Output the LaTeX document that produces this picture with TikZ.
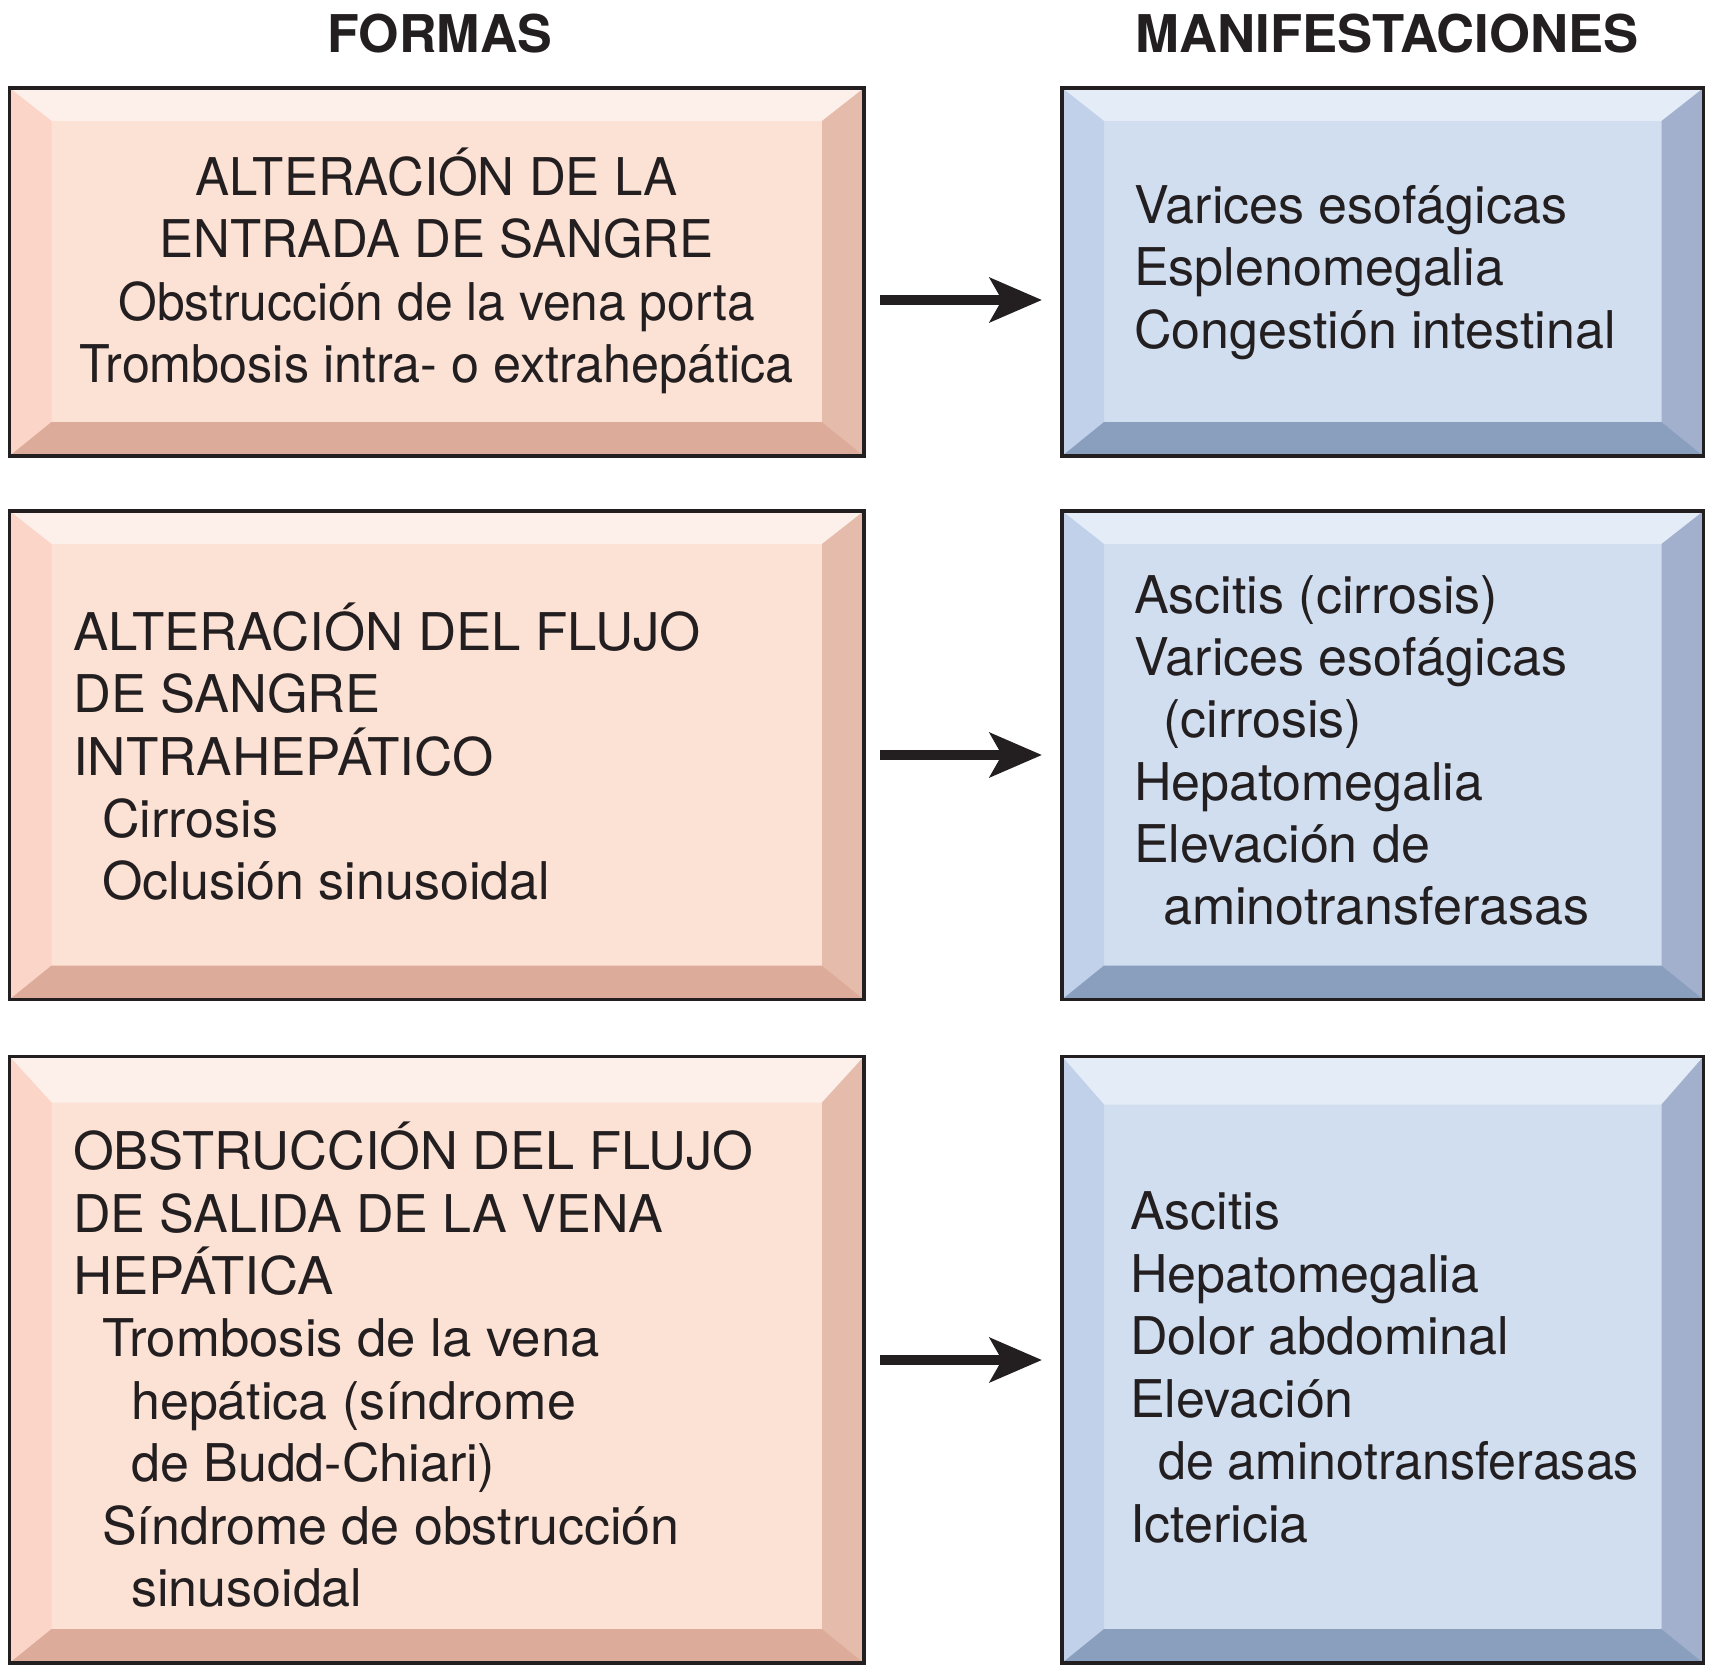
\documentclass[tikz,border=0pt]{standalone}
\usepackage{fontspec}
\usepackage{graphicx}
\setmainfont{TeX Gyre Heros}
\usetikzlibrary{arrows.meta}
\definecolor{ink}{HTML}{231F20}
\definecolor{pface}{HTML}{FCE1D5}
\definecolor{ptop}{HTML}{FDF0EB}
\definecolor{pleft}{HTML}{FBD5C7}
\definecolor{pright}{HTML}{E5BCAB}
\definecolor{pbot}{HTML}{DCAB99}
\definecolor{bface}{HTML}{D0DEF0}
\definecolor{btop}{HTML}{E4ECF7}
\definecolor{bleft}{HTML}{C2D1EA}
\definecolor{bright}{HTML}{A2B0CD}
\definecolor{bbot}{HTML}{8A9EBD}
\newcommand\bevelbox[6]{%
  \fill[#1face] (#2,#3) rectangle (#4,#5);
  \fill[#1top] (#2,#3) -- (#4,#3) -- (#4-42,#3+#6) -- (#2+42,#3+#6) -- cycle;
  \fill[#1left] (#2,#3) -- (#2+42,#3+#6) -- (#2+42,#5-34) -- (#2,#5) -- cycle;
  \fill[#1right] (#4,#3) -- (#4-42,#3+#6) -- (#4-42,#5-34) -- (#4,#5) -- cycle;
  \fill[#1bot] (#2,#5) -- (#2+42,#5-34) -- (#4-42,#5-34) -- (#4,#5) -- cycle;
}
\newcommand\sx[2]{\scalebox{#1}[1]{#2}}
\tikzset{
  frame/.style={draw=ink, line width=3.3pt, inner sep=0pt, outer sep=0pt},
  txt/.style={inner sep=0pt, text=ink, font=\fontsize{52}{62}\selectfont, anchor=base west},
  ctxt/.style={txt, anchor=base},
  hd/.style={inner sep=0pt, text=ink, font=\fontsize{52}{62}\selectfont\bfseries, anchor=base},
  arr/.style={draw=ink, line width=10pt, -{Stealth[length=52pt, width=44pt, inset=12pt]}, shorten <=16pt, shorten >=20pt}
}
\begin{document}
\begin{tikzpicture}[x=1pt, y=-1pt]
\useasboundingbox (0,0) rectangle (1715,1675);
% headings
\node[hd] (h1) at (440,53) {FORMAS};
\node[hd] (h2) at (1387,53) {\sx{1.013}{MANIFESTACIONES}};
% boxes
\bevelbox{p}{9.5}{88}{864}{456}{33}
\bevelbox{b}{1062}{88}{1703.5}{456}{33}
\bevelbox{p}{9.5}{511}{864}{999.5}{33}
\bevelbox{b}{1062}{511}{1703.5}{999.5}{33}
\bevelbox{p}{9.5}{1056.5}{864}{1663}{46}
\bevelbox{b}{1062}{1056.5}{1703.5}{1663}{48}
\node[frame, minimum width=854.5pt, minimum height=368pt] (L1) at (436.75,272) {};
\node[frame, minimum width=641.5pt, minimum height=368pt] (R1) at (1382.75,272) {};
\node[frame, minimum width=854.5pt, minimum height=488.5pt] (L2) at (436.75,755.25) {};
\node[frame, minimum width=641.5pt, minimum height=488.5pt] (R2) at (1382.75,755.25) {};
\node[frame, minimum width=854.5pt, minimum height=606.5pt] (L3) at (436.75,1359.75) {};
\node[frame, minimum width=641.5pt, minimum height=606.5pt] (R3) at (1382.75,1359.75) {};
% row 1 text
\node[ctxt] (l1a) at (436.5,195) {\sx{0.982}{ALTERACIÓN DE LA}};
\node[ctxt] (l1b) at (436.5,257.5) {\sx{0.979}{ENTRADA DE SANGRE}};
\node[ctxt] (l1c) at (436.5,320) {\sx{0.957}{Obstrucción de la vena porta}};
\node[ctxt] (l1d) at (436.5,382.5) {\sx{0.967}{Trombosis intra- o extrahepática}};
\node[txt] (r1a) at (1134,223) {Varices esofágicas};
\node[txt] (r1b) at (1134,285.5) {Esplenomegalia};
\node[txt] (r1c) at (1134,348) {Congestión intestinal};
% row 2 text
\node[txt] (l2a) at (73,650) {\sx{1.016}{ALTERACIÓN DEL FLUJO}};
\node[txt] (l2b) at (73,712.5) {\sx{1.007}{DE SANGRE}};
\node[txt] (l2c) at (73,775) {\sx{1.02}{INTRAHEPÁTICO}};
\node[txt] (l2d) at (102,837) {Cirrosis};
\node[txt] (l2e) at (102,899.5) {Oclusión sinusoidal};
\node[txt] (r2a) at (1134,613) {Ascitis (cirrosis)};
\node[txt] (r2b) at (1134,675) {Varices esofágicas};
\node[txt] (r2c) at (1163,737.5) {(cirrosis)};
\node[txt] (r2d) at (1134,800) {Hepatomegalia};
\node[txt] (r2e) at (1134,862) {Elevación de};
\node[txt] (r2f) at (1163,924.5) {aminotransferasas};
% row 3 text
\node[txt] (l3a) at (73,1169.5) {\sx{1.008}{OBSTRUCCIÓN DEL FLUJO}};
\node[txt] (l3b) at (73,1232) {DE SALIDA DE LA VENA};
\node[txt] (l3c) at (73,1294) {\sx{1.044}{HEPÁTICA}};
\node[txt] (l3d) at (102,1356.5) {\sx{1.013}{Trombosis de la vena}};
\node[txt] (l3e) at (131,1419) {hepática (síndrome};
\node[txt] (l3f) at (131,1481.5) {de Budd-Chiari)};
\node[txt] (l3g) at (102,1544) {Síndrome de obstrucción};
\node[txt] (l3h) at (131,1606) {sinusoidal};
\node[txt] (r3a) at (1130,1229) {Ascitis};
\node[txt] (r3b) at (1130,1292) {Hepatomegalia};
\node[txt] (r3c) at (1130,1354.5) {Dolor abdominal};
\node[txt] (r3d) at (1130,1417) {Elevación};
\node[txt] (r3e) at (1158,1479.5) {\sx{0.965}{de aminotransferasas}};
\node[txt] (r3f) at (1130,1542) {Ictericia};
% arrows
\coordinate (y1) at (0,300);
\coordinate (y2) at (0,755);
\coordinate (y3) at (0,1360);
\draw[arr] (L1.east |- y1) -- (R1.west |- y1);
\draw[arr] (L2.east |- y2) -- (R2.west |- y2);
\draw[arr] (L3.east |- y3) -- (R3.west |- y3);
\end{tikzpicture}
\end{document}
